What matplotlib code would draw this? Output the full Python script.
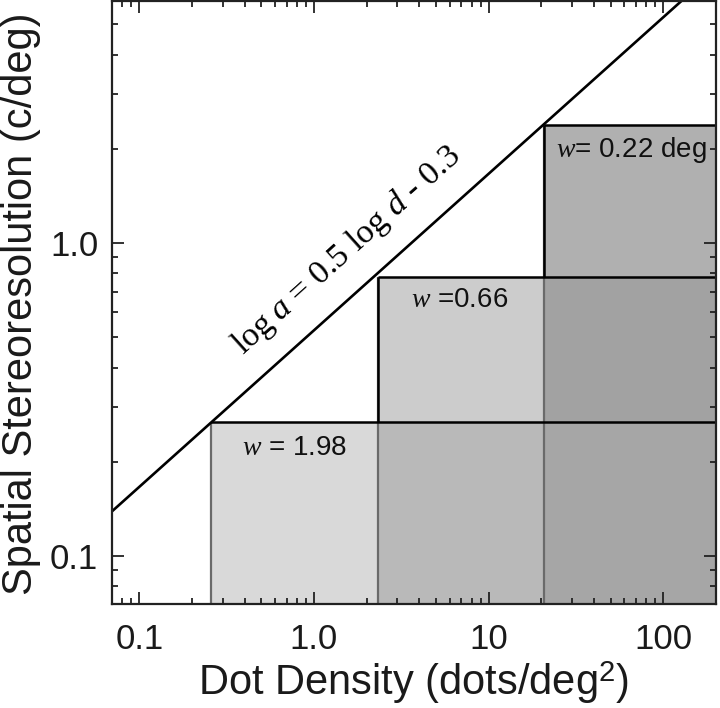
import matplotlib
matplotlib.use('Agg')
import matplotlib.pyplot as plt
from matplotlib.patches import Rectangle
from matplotlib.ticker import LogLocator, FixedLocator, FixedFormatter, NullFormatter

plt.rcParams.update({
    'font.family': ['Liberation Sans', 'DejaVu Sans'],
    'mathtext.fontset': 'custom',
    'mathtext.rm': 'Liberation Serif',
    'mathtext.it': 'Liberation Serif:italic',
    'mathtext.sf': 'Liberation Sans',
})

# ---------------- data ----------------
window_labels = [r'$w$ = 1.98', r'$w$ =0.66', r'$w$= 0.22 deg']
label_density = [0.769, 6.85, 66.0]
label_resolution = [0.221, 0.657, 1.98]
density_edges = [0.258, 2.32, 20.7, 201.0]
resolution_edges = [0.0703, 0.268, 0.78, 2.39]
cell_grays = {
    (0, 0): '#d9d9d9',
    (1, 0): '#b9b9b9', (1, 1): '#cccccc',
    (2, 0): '#a6a6a6', (2, 1): '#a2a2a2', (2, 2): '#b0b0b0',
}
line_density = [0.0697, 201.0]
line_resolution = [0.139, 7.45]
x_ticks = [0.1, 1.0, 10.0, 100.0]
x_tick_labels = ['0.1', '1.0', '10', '100']
y_ticks = [0.1, 1.0]
y_tick_labels = ['0.1', '1.0']
xlim = (0.0697, 201.0)
ylim = (0.0703, 5.93)
equation = r'$\mathrm{log}\;a$ = 0.5 log $d$ - 0.3'
equation_pos = (1.55, 0.95)

# ---------------- figure ----------------
fig = plt.figure(figsize=(7.2, 7.08), dpi=100)
ax = fig.add_axes([0.1556, 0.1469, 0.8389, 0.8517])
ax.set_xscale('log')
ax.set_yscale('log')
ax.set_xlim(*xlim)
ax.set_ylim(*ylim)

# shaded cells
for (i, j), c in cell_grays.items():
    x0, x1 = density_edges[i], density_edges[i + 1]
    y0, y1 = resolution_edges[j], resolution_edges[j + 1]
    ax.add_patch(Rectangle((x0, y0), x1 - x0, y1 - y0, facecolor=c,
                           edgecolor='none', zorder=1))

# gray vertical edges then black segments
for i in range(3):
    ax.plot([density_edges[i], density_edges[i]],
            [ylim[0], resolution_edges[i + 1]], color='#6a6a6a', lw=1.6,
            zorder=2, solid_capstyle='butt')
for i in range(1, 3):
    ax.plot([density_edges[i], density_edges[i]],
            [resolution_edges[i], resolution_edges[i + 1]], color='black',
            lw=1.8, zorder=3, solid_capstyle='butt')
# black horizontal tops
for i in range(3):
    ax.plot([density_edges[i], xlim[1]],
            [resolution_edges[i + 1], resolution_edges[i + 1]], color='black',
            lw=1.8, zorder=3, solid_capstyle='butt')

# diagonal line
ax.plot(line_density, line_resolution, color='black', lw=1.9, zorder=4)

# texts
for lab, xd, yd in zip(window_labels, label_density, label_resolution):
    ax.text(xd, yd, lab, fontsize=20, ha='center', va='center', color='#111111',
            zorder=5)
ax.text(equation_pos[0], equation_pos[1], equation, fontsize=24.5,
        family='Liberation Serif', rotation=42, rotation_mode='anchor',
        ha='center', va='center', zorder=5)

# ticks
ax.xaxis.set_major_locator(FixedLocator(x_ticks))
ax.xaxis.set_major_formatter(FixedFormatter(x_tick_labels))
ax.yaxis.set_major_locator(FixedLocator(y_ticks))
ax.yaxis.set_major_formatter(FixedFormatter(y_tick_labels))
ax.xaxis.set_minor_locator(LogLocator(base=10, subs=range(2, 10)))
ax.yaxis.set_minor_locator(LogLocator(base=10, subs=range(2, 10)))
ax.xaxis.set_minor_formatter(NullFormatter())
ax.yaxis.set_minor_formatter(NullFormatter())
ax.tick_params(which='both', direction='in', top=True, right=True,
               color='#222222', labelcolor='#1a1a1a', labelsize=25, width=1.3)
ax.tick_params(which='major', length=8.5)
ax.tick_params(which='minor', length=4.5)
ax.tick_params(axis='x', which='major', pad=14)
ax.tick_params(axis='y', which='major', pad=10)

for s in ax.spines.values():
    s.set_linewidth(1.6)
    s.set_color('#222222')
    s.set_zorder(6)

fig.text(0.574, 0.0353, r'Dot Density (dots/deg$^{\mathsf{2}}$)', fontsize=30,
         ha='center', va='center', color='#1a1a1a')
fig.text(0.029, 0.571, 'Spatial Stereoresolution (c/deg)', fontsize=30,
         rotation=90, ha='center', va='center', color='#1a1a1a')

fig.savefig('out.png', dpi=100)
